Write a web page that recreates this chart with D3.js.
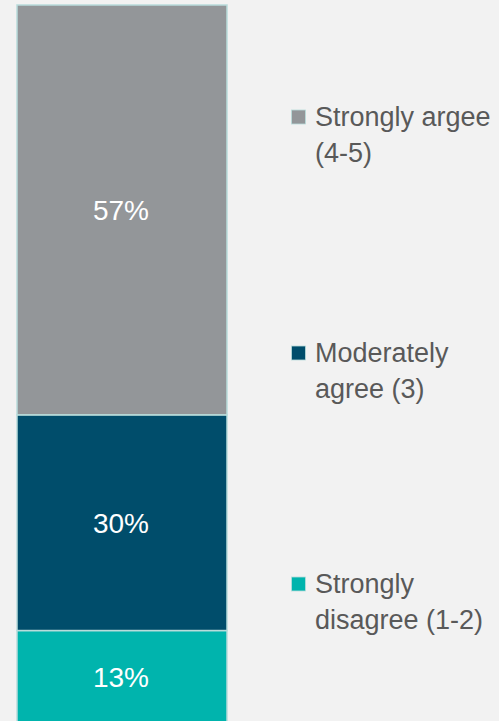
<!DOCTYPE html>
<html>
<head>
<meta charset="utf-8">
<script src="https://cdn.jsdelivr.net/npm/d3@7"></script>
<style>
  body { margin: 0; background: #f2f2f2; }
  svg { display: block; font-family: "Liberation Sans", Arial, sans-serif; }
</style>
</head>
<body>
<svg id="chart" width="499" height="721"></svg>
<script>
// one stacked column, bottom to top
var categories = ["Strongly disagree (1-2)", "Moderately agree (3)", "Strongly argee (4-5)"];
var values = [13, 30, 57];
var colors = ["#00b4ad", "#004d6b", "#939699"];
// legend is drawn top to bottom, text split in two lines
var legendLines = [["Strongly argee", "(4-5)"], ["Moderately", "agree (3)"], ["Strongly", "disagree (1-2)"]];

var svg = d3.select("#chart");

var x = d3.scaleBand().domain(["all"]).range([16, 228]).padding(0);
var y = d3.scaleLinear().domain([0, 100]).range([724, 5]);

var stack = [];
var acc = 0;
values.forEach(function(v, i) {
    stack.push({cat: categories[i], v: v, y0: acc, y1: acc + v, color: colors[i]});
    acc += v;
});

var bars = svg.append("g");
bars.selectAll("rect")
    .data(stack)
    .enter().append("rect")
    .attr("x", x("all") + 1)
    .attr("width", x.bandwidth() - 2)
    .attr("y", function(d) { return y(d.y1); })
    .attr("height", function(d) { return y(d.y0) - y(d.y1); })
    .attr("fill", function(d) { return d.color; })
    .attr("stroke", "#b9dcdb")
    .attr("stroke-width", 1.5);

bars.selectAll("text")
    .data(stack)
    .enter().append("text")
    .attr("x", x("all") + x.bandwidth() / 2 - 1)
    .attr("y", function(d) { return (y(d.y0) + y(d.y1)) / 2; })
    .attr("dy", "0.36em")
    .attr("text-anchor", "middle")
    .attr("fill", "#ffffff")
    .attr("font-size", 28)
    .text(function(d) { return d.v + "%"; });

// legend
var legendY = [117, 353, 584];
var legendColors = colors.slice().reverse();
var leg = svg.append("g").selectAll("g")
    .data(legendLines)
    .enter().append("g")
    .attr("transform", function(d, i) { return "translate(291," + legendY[i] + ")"; });

leg.append("rect")
    .attr("x", 0.5)
    .attr("y", -7)
    .attr("width", 14)
    .attr("height", 14)
    .attr("fill", function(d, i) { return legendColors[i]; })
    .attr("stroke", "#b9dcdb")
    .attr("stroke-width", 0.8);

leg.each(function(d) {
    var t = d3.select(this).append("text")
        .attr("x", 24)
        .attr("y", 0)
        .attr("fill", "#595959")
        .attr("font-size", 27);
    d.forEach(function(line, j) {
        t.append("tspan")
            .attr("x", 24)
            .attr("y", 9 + j * 36)
            .text(line);
    });
});
</script>
</body>
</html>
